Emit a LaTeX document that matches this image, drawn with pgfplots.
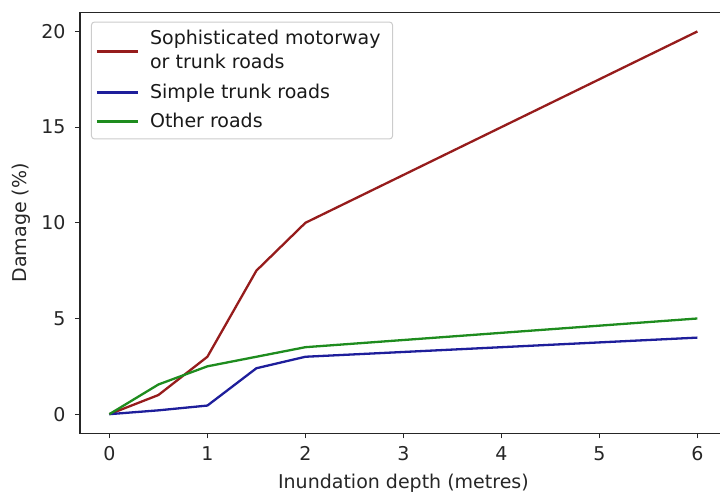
\documentclass[border=0pt]{standalone}
\usepackage{fontspec}
\setmainfont{DejaVu Sans}
\usepackage{pgfplots}
\pgfplotsset{compat=1.18}
\definecolor{cred}{RGB}{150,28,28}
\definecolor{cblue}{RGB}{30,30,155}
\definecolor{cgreen}{RGB}{30,140,30}
\begin{document}
\fontsize{19}{23}\selectfont
\begin{tikzpicture}
\begin{axis}[
  at={(0,0)}, anchor=south west,
  scale only axis, width=646.8pt, height=421pt,
  xmin=-0.3, xmax=6.3, ymin=-1, ymax=21,
  xtick={0,1,2,3,4,5,6}, ytick={0,5,10,15,20},
  xtick pos=bottom, ytick pos=left,
  tick align=outside, major tick length=5pt,
  tick style={line width=1.2pt, color=black!85},
  axis line style={line width=1.4pt, color=black!85},
  /pgf/number format/assume math mode=true,
  tick label style={font=\fontsize{19}{23}\selectfont, text=black!85},
  x tick label style={yshift=-2pt},
  y tick label style={xshift=-3pt},
  label style={font=\fontsize{19}{23}\selectfont, text=black!85},
  xlabel={Inundation depth (metres)},
  xlabel style={at={(axis description cs:0.5,0)}, anchor=center, yshift=-49.5pt},
  ylabel={Damage (\%)},
  ylabel style={at={(axis description cs:-0.0905,0.5)}, anchor=center},
  legend style={at={(axis description cs:0.017,0.978)}, anchor=north west,
    draw=black!20, line width=1pt, rounded corners=3pt, fill=white,
    font=\fontsize{19}{24}\selectfont, text=black!90,
    cells={anchor=west, align=left}, row sep=8pt, column sep=9pt,
    inner xsep=4pt, inner ysep=6.5pt},
  legend image code/.code={\draw[#1, line width=2.6pt] (0pt,0pt) -- (41pt,0pt);},
  every axis plot/.append style={line width=2.3pt},
  clip=false,
]
\addplot[cred] coordinates {(0,0) (0.5,1) (1,3) (1.5,7.5) (2,10) (6,20)};
\addlegendentry{Sophisticated motorway\hspace*{6pt}\\or trunk roads}
\addplot[cblue] coordinates {(0,0) (0.5,0.2) (1,0.45) (1.5,2.4) (2,3) (6,4)};
\addlegendentry{Simple trunk roads}
\addplot[cgreen] coordinates {(0,0) (0.5,1.55) (1,2.5) (1.5,3) (2,3.5) (6,5)};
\addlegendentry{Other roads}
\end{axis}
\pgfresetboundingbox
\path (-80pt,-59.7pt) rectangle (640pt,433.3pt);
\end{tikzpicture}
\end{document}
